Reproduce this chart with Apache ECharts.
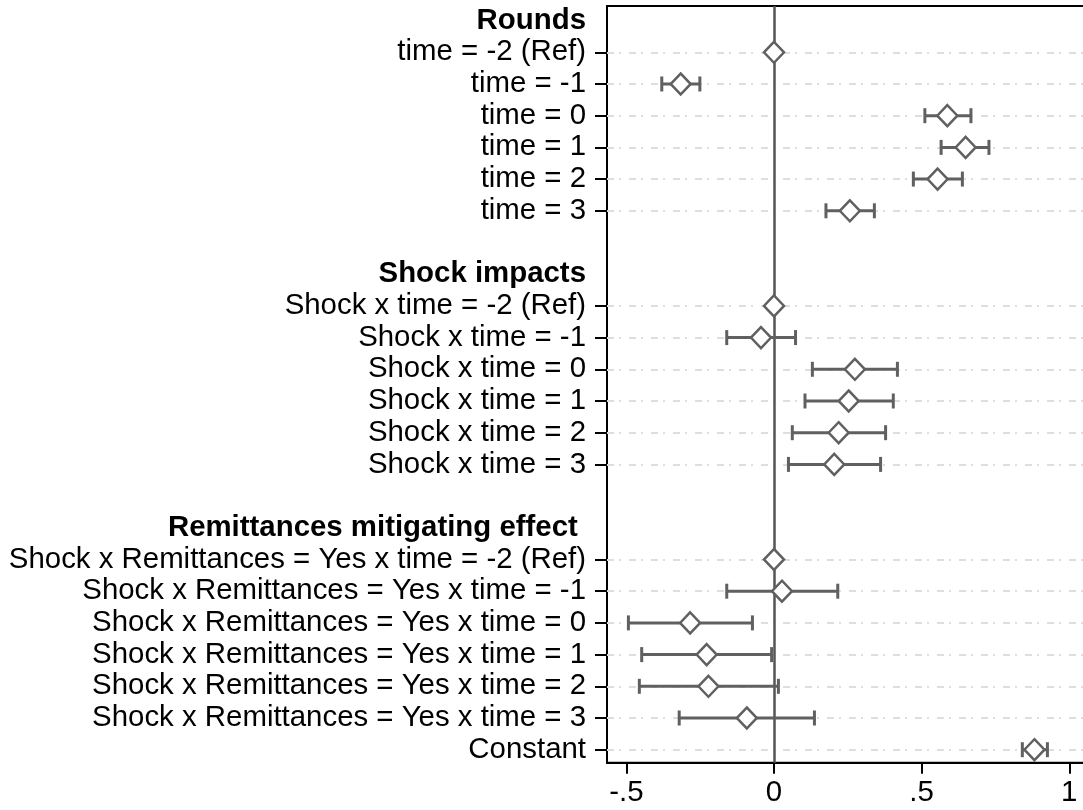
<!DOCTYPE html>
<html>
<head>
<meta charset="utf-8">
<script src="https://cdn.jsdelivr.net/npm/echarts@6/dist/echarts.min.js"></script>
<style>
html,body{margin:0;padding:0;background:#fff;}
#chart{width:1083px;height:810px;}
</style>
</head>
<body>
<div id="chart"></div>
<script>
// Row labels (top to bottom), headers and blank spacer rows included
const rowLabels = [
  'Rounds',
  'time = -2 (Ref)', 'time = -1', 'time = 0', 'time = 1', 'time = 2', 'time = 3',
  '',
  'Shock impacts',
  'Shock x time = -2 (Ref)', 'Shock x time = -1', 'Shock x time = 0', 'Shock x time = 1', 'Shock x time = 2', 'Shock x time = 3',
  '',
  'Remittances mitigating effect ',
  'Shock x Remittances = Yes x time = -2 (Ref)', 'Shock x Remittances = Yes x time = -1',
  'Shock x Remittances = Yes x time = 0', 'Shock x Remittances = Yes x time = 1',
  'Shock x Remittances = Yes x time = 2', 'Shock x Remittances = Yes x time = 3',
  'Constant'
];
const headerRows = [0, 8, 16];
const coefRows = [1, 2, 3, 4, 5, 6, 9, 10, 11, 12, 13, 14, 17, 18, 19, 20, 21, 22, 23];
const estimates = [0, -0.316, 0.587, 0.649, 0.554, 0.257,
                   0, -0.044, 0.274, 0.253, 0.219, 0.204,
                   0, 0.027, -0.284, -0.228, -0.222, -0.092,
                   0.882];
const ciLow = [null, -0.380, 0.511, 0.566, 0.472, 0.176,
               null, -0.160, 0.130, 0.105, 0.062, 0.049,
               null, -0.160, -0.493, -0.448, -0.456, -0.321,
               0.841];
const ciHigh = [null, -0.251, 0.667, 0.728, 0.638, 0.340,
                null, 0.073, 0.418, 0.404, 0.378, 0.361,
                null, 0.216, -0.073, -0.008, 0.015, 0.137,
                0.926];
const xTicks = [-0.5, 0, 0.5, 1];
const xTickLabels = ['-.5', '0', '.5', '1'];

const FONT = 'Liberation Sans, Arial, Helvetica, sans-serif';
const GRAY = '#606060';
const FS = 29.4;

const pointData = coefRows.map((r, i) => [estimates[i], r]);
const ciData = [];
coefRows.forEach((r, i) => {
  if (ciLow[i] !== null) ciData.push([r, ciLow[i], ciHigh[i]]);
});
const labelRows = rowLabels.map((t, i) => i).filter(i => rowLabels[i] !== '');

const chart = echarts.init(document.getElementById('chart'), null, {renderer: 'canvas'});
chart.setOption({
  animation: false,
  backgroundColor: '#fff',
  grid: {
    left: 607, top: 6, width: 491.8, bottom: 47.3,
    outerBoundsMode: 'none', containLabel: false,
    show: true, borderColor: '#000', borderWidth: 2, backgroundColor: '#fff'
  },
  xAxis: {
    type: 'value', min: -0.5655, max: 1.1,
    axisLine: {show: true, onZero: false, lineStyle: {color: '#000', width: 2}},
    axisTick: {show: true, customValues: xTicks, length: 11, lineStyle: {color: '#000', width: 2}},
    axisLabel: {
      customValues: xTicks, margin: 16, color: '#000', fontSize: FS, fontFamily: FONT,
      formatter: v => { const k = xTicks.findIndex(t => Math.abs(t - v) < 1e-6); return k >= 0 ? xTickLabels[k] : ''; }
    },
    splitLine: {show: false}
  },
  yAxis: {
    type: 'value', inverse: true, min: -0.46, max: 23.41,
    axisLine: {show: true, onZero: false, lineStyle: {color: '#000', width: 2}},
    axisTick: {show: true, customValues: coefRows, length: 12, lineStyle: {color: '#000', width: 2}},
    axisLabel: {
      customValues: labelRows, margin: 21, color: '#000', fontSize: FS, fontFamily: FONT,
      formatter: v => {
        const i = Math.round(v);
        const t = rowLabels[i] || '';
        return headerRows.indexOf(i) >= 0 ? '{b|' + t + '}' : t;
      },
      rich: {b: {fontWeight: 'bold', fontSize: FS, fontFamily: FONT, color: '#000'}}
    },
    splitLine: {show: false}
  },
  series: [
    {
      name: 'grid', type: 'line', data: [], z: 1, silent: true,
      markLine: {
        silent: true, symbol: 'none', label: {show: false}, animation: false, z: 1,
        lineStyle: {color: '#dedede', width: 2, type: [7, 5, 2, 8]},
        data: coefRows.map(r => ({yAxis: r}))
      }
    },
    {
      name: 'zero', type: 'line', data: [], z: 2, silent: true,
      markLine: {
        silent: true, symbol: 'none', label: {show: false}, animation: false, z: 2,
        lineStyle: {color: '#555', width: 2.5, type: 'solid'},
        data: [{xAxis: 0}]
      }
    },
    {
      name: 'ci', type: 'custom', z: 10, silent: true,
      encode: {x: [1, 2], y: 0},
      data: ciData,
      renderItem: (params, api) => {
        const p1 = api.coord([api.value(1), api.value(0)]);
        const p2 = api.coord([api.value(2), api.value(0)]);
        const h = 7.5;
        const st = {stroke: GRAY, lineWidth: 3, fill: null};
        return {
          type: 'group',
          children: [
            {type: 'line', shape: {x1: p1[0], y1: p1[1], x2: p2[0], y2: p2[1]}, style: st},
            {type: 'line', shape: {x1: p1[0], y1: p1[1] - h, x2: p1[0], y2: p1[1] + h}, style: st},
            {type: 'line', shape: {x1: p2[0], y1: p2[1] - h, x2: p2[0], y2: p2[1] + h}, style: st}
          ]
        };
      }
    },
    {
      name: 'estimate', type: 'scatter', z: 11, silent: true,
      symbol: 'diamond', symbolSize: [20, 21],
      itemStyle: {color: '#fff', borderColor: GRAY, borderWidth: 2.5, opacity: 1},
      data: pointData
    }
  ]
});
</script>
</body>
</html>
